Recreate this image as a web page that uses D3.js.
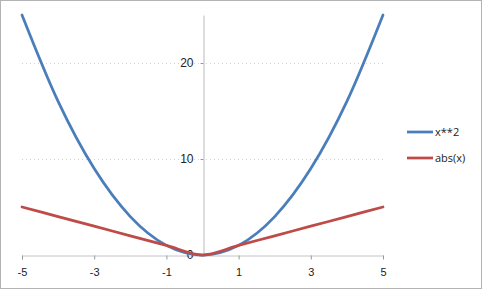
<!DOCTYPE html>
<html>
<head>
<meta charset="UTF-8">
<script src="https://d3js.org/d3.v7.min.js"></script>
<style>
    body { margin: 0; background: white; }
    #chart { display: block; font-family: "Open Sans", "Liberation Sans", sans-serif; }
</style>
</head>
<body>
<svg id="chart" width="482" height="289"></svg>
<script>
    const xs = [-5, -4, -3, -2, -1, 0, 1, 2, 3, 4, 5];
    const squares = [25, 16, 9, 4, 1, 0, 1, 4, 9, 16, 25];
    const absValues = [5, 4, 3, 2, 1, 0, 1, 2, 3, 4, 5];
    const xTicks = [-5, -3, -1, 1, 3, 5];
    const yTicks = [0, 10, 20];
    const seriesNames = ['x**2', 'abs(x)'];
    const seriesColors = ['#4a7ebb', '#be4b48'];

    const svg = d3.select('#chart');

    // chart area border
    svg.append('rect')
        .attr('x', 0.5).attr('y', 0.5)
        .attr('width', 481).attr('height', 288)
        .attr('fill', 'white')
        .attr('stroke', '#666')
        .attr('stroke-dasharray', '1,1');

    const x = d3.scaleLinear().domain([-5, 5]).range([22, 383]);
    const y = d3.scaleLinear().domain([0, 25]).range([255, 15]);

    // gridlines
    svg.selectAll('.grid')
        .data(yTicks.filter(d => d > 0))
        .enter()
        .append('line')
        .attr('x1', x(-5)).attr('x2', x(5))
        .attr('y1', d => Math.round(y(d)) + 0.5)
        .attr('y2', d => Math.round(y(d)) + 0.5)
        .attr('stroke', '#e2d78a')
        .attr('stroke-dasharray', '1,3');

    // x axis
    const xAxis = svg.append('g')
        .attr('transform', `translate(0,${Math.round(y(0)) + 0.5})`)
        .call(d3.axisBottom(x).tickValues(xTicks).tickSize(4).tickSizeOuter(0).tickFormat(d3.format('d')));
    xAxis.select('.domain').attr('stroke', '#888').attr('stroke-dasharray', '1,1');
    xAxis.selectAll('.tick line').attr('stroke', '#999');
    xAxis.selectAll('text')
        .attr('fill', '#222')
        .attr('font-size', 11)
        .attr('dy', '1.2em')
        .text(d => d < 0 ? '-' + Math.abs(d) : d);

    // y axis
    const yAxis = svg.append('g')
        .attr('transform', `translate(${Math.round(x(0)) + 0.5},0)`)
        .call(d3.axisLeft(y).tickValues(yTicks).tickSize(3).tickSizeOuter(0));
    yAxis.select('.domain').attr('stroke', '#bbb');
    yAxis.selectAll('.tick line').attr('stroke', '#999');
    yAxis.selectAll('text')
        .attr('fill', '#222')
        .attr('font-size', 12)
        .attr('x', -10);

    const line = d3.line()
        .x((d, i) => x(xs[i]))
        .y(d => y(d))
        .curve(d3.curveCardinal);

    const series = [squares, absValues];
    svg.selectAll('.series')
        .data(series)
        .enter()
        .append('path')
        .attr('d', d => line(d))
        .attr('fill', 'none')
        .attr('stroke', (d, i) => seriesColors[i])
        .attr('stroke-width', 2.75)
        .attr('stroke-linecap', 'round');

    // legend
    const legend = svg.selectAll('.legend')
        .data(seriesNames)
        .enter()
        .append('g')
        .attr('transform', (d, i) => `translate(407,${132 + i * 26})`);
    legend.append('line')
        .attr('x1', 0).attr('x2', 26)
        .attr('stroke', (d, i) => seriesColors[i])
        .attr('stroke-width', 2.75);
    legend.append('text')
        .attr('x', 28).attr('dy', '0.35em')
        .attr('font-size', 11)
        .attr('fill', '#222')
        .text(d => d);
</script>
</body>
</html>
